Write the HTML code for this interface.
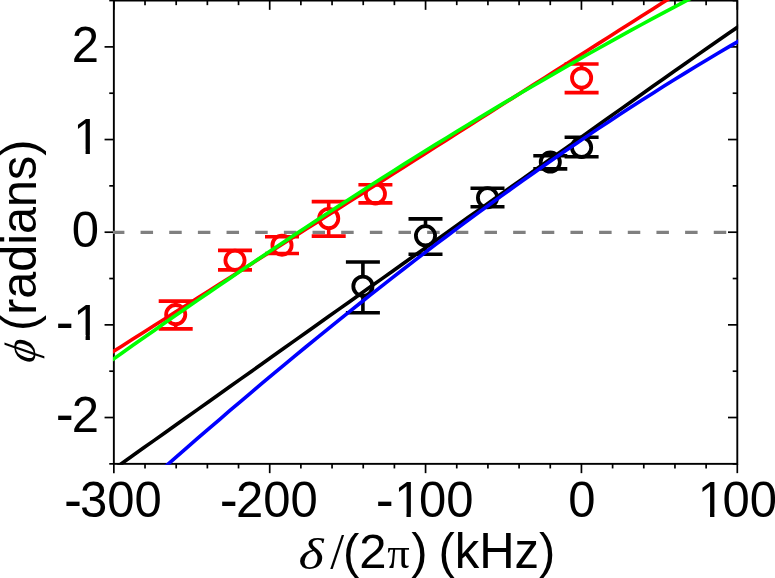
<!DOCTYPE html>
<html><head><meta charset="utf-8"><title>phase vs detuning</title>
<style>html,body{margin:0;padding:0;background:#fff}svg{display:block}.sa{font-family:"Liberation Sans",sans-serif}.se{font-family:"Liberation Serif",serif}</style></head>
<body>
<svg width="775" height="578" viewBox="0 0 775 578">
<rect width="775" height="578" fill="#fff"/>
<defs><clipPath id="c"><rect x="113.0" y="-0.30" width="625.15" height="465.0"/></clipPath></defs>
<rect x="113.85" y="0.55" width="623.45" height="463.3" fill="none" stroke="#000" stroke-width="1.9"/>
<g stroke="#000" stroke-width="1.7">
<line x1="113.85" y1="463.85" x2="113.85" y2="473.15"/>
<line x1="113.85" y1="0.55" x2="113.85" y2="9.85"/>
<line x1="145.02" y1="463.85" x2="145.02" y2="468.45"/>
<line x1="145.02" y1="0.55" x2="145.02" y2="5.15"/>
<line x1="176.19" y1="463.85" x2="176.19" y2="468.45"/>
<line x1="176.19" y1="0.55" x2="176.19" y2="5.15"/>
<line x1="207.37" y1="463.85" x2="207.37" y2="468.45"/>
<line x1="207.37" y1="0.55" x2="207.37" y2="5.15"/>
<line x1="238.54" y1="463.85" x2="238.54" y2="468.45"/>
<line x1="238.54" y1="0.55" x2="238.54" y2="5.15"/>
<line x1="269.71" y1="463.85" x2="269.71" y2="473.15"/>
<line x1="269.71" y1="0.55" x2="269.71" y2="9.85"/>
<line x1="300.88" y1="463.85" x2="300.88" y2="468.45"/>
<line x1="300.88" y1="0.55" x2="300.88" y2="5.15"/>
<line x1="332.06" y1="463.85" x2="332.06" y2="468.45"/>
<line x1="332.06" y1="0.55" x2="332.06" y2="5.15"/>
<line x1="363.23" y1="463.85" x2="363.23" y2="468.45"/>
<line x1="363.23" y1="0.55" x2="363.23" y2="5.15"/>
<line x1="394.40" y1="463.85" x2="394.40" y2="468.45"/>
<line x1="394.40" y1="0.55" x2="394.40" y2="5.15"/>
<line x1="425.57" y1="463.85" x2="425.57" y2="473.15"/>
<line x1="425.57" y1="0.55" x2="425.57" y2="9.85"/>
<line x1="456.75" y1="463.85" x2="456.75" y2="468.45"/>
<line x1="456.75" y1="0.55" x2="456.75" y2="5.15"/>
<line x1="487.92" y1="463.85" x2="487.92" y2="468.45"/>
<line x1="487.92" y1="0.55" x2="487.92" y2="5.15"/>
<line x1="519.09" y1="463.85" x2="519.09" y2="468.45"/>
<line x1="519.09" y1="0.55" x2="519.09" y2="5.15"/>
<line x1="550.26" y1="463.85" x2="550.26" y2="468.45"/>
<line x1="550.26" y1="0.55" x2="550.26" y2="5.15"/>
<line x1="581.44" y1="463.85" x2="581.44" y2="473.15"/>
<line x1="581.44" y1="0.55" x2="581.44" y2="9.85"/>
<line x1="612.61" y1="463.85" x2="612.61" y2="468.45"/>
<line x1="612.61" y1="0.55" x2="612.61" y2="5.15"/>
<line x1="643.78" y1="463.85" x2="643.78" y2="468.45"/>
<line x1="643.78" y1="0.55" x2="643.78" y2="5.15"/>
<line x1="674.95" y1="463.85" x2="674.95" y2="468.45"/>
<line x1="674.95" y1="0.55" x2="674.95" y2="5.15"/>
<line x1="706.13" y1="463.85" x2="706.13" y2="468.45"/>
<line x1="706.13" y1="0.55" x2="706.13" y2="5.15"/>
<line x1="737.30" y1="463.85" x2="737.30" y2="473.15"/>
<line x1="737.30" y1="0.55" x2="737.30" y2="9.85"/>
<line x1="113.85" y1="463.85" x2="109.25" y2="463.85"/>
<line x1="737.3" y1="463.85" x2="732.70" y2="463.85"/>
<line x1="113.85" y1="417.52" x2="104.55" y2="417.52"/>
<line x1="737.3" y1="417.52" x2="728.0" y2="417.52"/>
<line x1="113.85" y1="371.19" x2="109.25" y2="371.19"/>
<line x1="737.3" y1="371.19" x2="732.70" y2="371.19"/>
<line x1="113.85" y1="324.86" x2="104.55" y2="324.86"/>
<line x1="737.3" y1="324.86" x2="728.0" y2="324.86"/>
<line x1="113.85" y1="278.53" x2="109.25" y2="278.53"/>
<line x1="737.3" y1="278.53" x2="732.70" y2="278.53"/>
<line x1="113.85" y1="232.20" x2="104.55" y2="232.20"/>
<line x1="737.3" y1="232.20" x2="728.0" y2="232.20"/>
<line x1="113.85" y1="185.87" x2="109.25" y2="185.87"/>
<line x1="737.3" y1="185.87" x2="732.70" y2="185.87"/>
<line x1="113.85" y1="139.54" x2="104.55" y2="139.54"/>
<line x1="737.3" y1="139.54" x2="728.0" y2="139.54"/>
<line x1="113.85" y1="93.21" x2="109.25" y2="93.21"/>
<line x1="737.3" y1="93.21" x2="732.70" y2="93.21"/>
<line x1="113.85" y1="46.88" x2="104.55" y2="46.88"/>
<line x1="737.3" y1="46.88" x2="728.0" y2="46.88"/>
<line x1="113.85" y1="0.55" x2="109.25" y2="0.55"/>
<line x1="737.3" y1="0.55" x2="732.70" y2="0.55"/>
</g>
<g clip-path="url(#c)">
<line x1="111.9" y1="232.4" x2="737.3" y2="232.4" stroke="#808080" stroke-width="3.2" stroke-dasharray="12.5 16.16"/>
<g stroke="#000" fill="none" stroke-width="3.6"><line x1="362.9" y1="262.0" x2="362.9" y2="276.60"/><line x1="362.9" y1="295.8" x2="362.9" y2="312.8"/><line x1="345.9" y1="262.0" x2="379.9" y2="262.0"/><line x1="345.9" y1="312.8" x2="379.9" y2="312.8"/><circle cx="362.9" cy="286.2" r="9.6" stroke-width="3.8"/></g>
<g stroke="#000" fill="none" stroke-width="3.6"><line x1="425.5" y1="218.9" x2="425.5" y2="226.20"/><line x1="425.5" y1="245.4" x2="425.5" y2="254.2"/><line x1="408.5" y1="218.9" x2="442.5" y2="218.9"/><line x1="408.5" y1="254.2" x2="442.5" y2="254.2"/><circle cx="425.5" cy="235.8" r="9.6" stroke-width="3.8"/></g>
<g stroke="#000" fill="none" stroke-width="3.6"><line x1="487.5" y1="188.3" x2="487.5" y2="188.1"/><line x1="487.5" y1="207.30" x2="487.5" y2="206.8"/><line x1="470.5" y1="188.3" x2="504.5" y2="188.3"/><line x1="470.5" y1="206.8" x2="504.5" y2="206.8"/><circle cx="487.5" cy="197.7" r="9.6" stroke-width="3.8"/></g>
<g stroke="#000" fill="none" stroke-width="3.6"><line x1="550.3" y1="155.8" x2="550.3" y2="152.5"/><line x1="550.3" y1="171.7" x2="550.3" y2="168.9"/><line x1="533.3" y1="155.8" x2="567.3" y2="155.8"/><line x1="533.3" y1="168.9" x2="567.3" y2="168.9"/><circle cx="550.3" cy="162.1" r="9.6" stroke-width="3.8"/></g>
<g stroke="#000" fill="none" stroke-width="3.6"><line x1="581.6" y1="137.2" x2="581.6" y2="137.8"/><line x1="581.6" y1="157.0" x2="581.6" y2="156.8"/><line x1="564.6" y1="137.2" x2="598.6" y2="137.2"/><line x1="564.6" y1="156.8" x2="598.6" y2="156.8"/><circle cx="581.6" cy="147.4" r="9.6" stroke-width="3.8"/></g>
<g stroke="#f00" fill="none" stroke-width="3.6"><line x1="175.7" y1="301.1" x2="175.7" y2="305.0"/><line x1="175.7" y1="324.20" x2="175.7" y2="328.9"/><line x1="158.7" y1="301.1" x2="192.7" y2="301.1"/><line x1="158.7" y1="328.9" x2="192.7" y2="328.9"/><circle cx="175.7" cy="314.6" r="9.6" stroke-width="3.8"/></g>
<g stroke="#f00" fill="none" stroke-width="3.6"><line x1="235.0" y1="250.4" x2="235.0" y2="250.70"/><line x1="235.0" y1="269.90" x2="235.0" y2="269.9"/><line x1="218.0" y1="250.4" x2="252.0" y2="250.4"/><line x1="218.0" y1="269.9" x2="252.0" y2="269.9"/><circle cx="235.0" cy="260.3" r="9.6" stroke-width="3.8"/></g>
<g stroke="#f00" fill="none" stroke-width="3.6"><line x1="282.0" y1="236.7" x2="282.0" y2="235.6"/><line x1="282.0" y1="254.80" x2="282.0" y2="253.5"/><line x1="265.0" y1="236.7" x2="299.0" y2="236.7"/><line x1="265.0" y1="253.5" x2="299.0" y2="253.5"/><circle cx="282.0" cy="245.2" r="9.6" stroke-width="3.8"/></g>
<g stroke="#f00" fill="none" stroke-width="3.6"><line x1="328.7" y1="201.6" x2="328.7" y2="208.9"/><line x1="328.7" y1="228.1" x2="328.7" y2="236.1"/><line x1="311.7" y1="201.6" x2="345.7" y2="201.6"/><line x1="311.7" y1="236.1" x2="345.7" y2="236.1"/><circle cx="328.7" cy="218.5" r="9.6" stroke-width="3.8"/></g>
<g stroke="#f00" fill="none" stroke-width="3.6"><line x1="375.4" y1="184.8" x2="375.4" y2="184.3"/><line x1="375.4" y1="203.5" x2="375.4" y2="202.9"/><line x1="358.4" y1="184.8" x2="392.4" y2="184.8"/><line x1="358.4" y1="202.9" x2="392.4" y2="202.9"/><circle cx="375.4" cy="193.9" r="9.6" stroke-width="3.8"/></g>
<g stroke="#f00" fill="none" stroke-width="3.6"><line x1="581.6" y1="64.0" x2="581.6" y2="68.4"/><line x1="581.6" y1="87.6" x2="581.6" y2="92.6"/><line x1="564.6" y1="64.0" x2="598.6" y2="64.0"/><line x1="564.6" y1="92.6" x2="598.6" y2="92.6"/><circle cx="581.6" cy="78.0" r="9.6" stroke-width="3.8"/></g>
<polyline points="100.0,478.85 110.8,471.16 121.7,463.47 132.5,455.78 143.3,448.08 154.2,440.39 165.0,432.70 175.8,425.01 186.7,417.32 197.5,409.62 208.3,401.93 219.2,394.24 230.0,386.55 240.8,378.86 251.7,371.17 262.5,363.48 273.3,355.78 284.2,348.09 295.0,340.40 305.8,332.71 316.7,325.02 327.5,317.33 338.3,309.63 349.2,301.94 360.0,294.25 370.8,286.56 381.7,278.87 392.5,271.18 403.3,263.48 414.2,255.79 425.0,248.10 435.8,240.41 446.7,232.72 457.5,225.03 468.3,217.33 479.2,209.64 490.0,201.95 500.8,194.26 511.7,186.57 522.5,178.88 533.3,171.18 544.2,163.49 555.0,155.80 565.8,148.11 576.7,140.42 587.5,132.73 598.3,125.03 609.2,117.34 620.0,109.65 630.8,101.96 641.7,94.27 652.5,86.59 663.3,78.94 674.2,71.32 685.0,63.72 695.8,56.14 706.7,48.59 717.5,41.06 728.3,33.56 739.2,26.09 750.0,18.64" fill="none" stroke="#000" stroke-width="3.6"/>
<polyline points="100.0,359.96 110.8,353.08 121.7,346.20 132.5,339.33 143.3,332.45 154.2,325.57 165.0,318.69 175.8,311.82 186.7,304.94 197.5,298.06 208.3,291.19 219.2,284.31 230.0,277.43 240.8,270.55 251.7,263.68 262.5,256.80 273.3,249.92 284.2,243.05 295.0,236.17 305.8,229.29 316.7,222.41 327.5,215.54 338.3,208.66 349.2,201.78 360.0,194.90 370.8,188.03 381.7,181.15 392.5,174.27 403.3,167.40 414.2,160.52 425.0,153.64 435.8,146.76 446.7,139.89 457.5,133.01 468.3,126.13 479.2,119.26 490.0,112.38 500.8,105.50 511.7,98.62 522.5,91.75 533.3,84.87 544.2,77.99 555.0,71.11 565.8,64.24 576.7,57.36 587.5,50.48 598.3,43.61 609.2,36.73 620.0,29.85 630.8,22.97 641.7,16.10 652.5,9.22 663.3,2.34 674.2,-4.53 685.0,-11.41 695.8,-18.29 706.7,-25.17 717.5,-32.04 728.3,-38.92 739.2,-45.80 750.0,-52.68" fill="none" stroke="#f00" stroke-width="3.6"/>
<polyline points="100.0,524.95 110.8,515.16 121.7,505.41 132.5,495.71 143.3,486.05 154.2,476.44 165.0,466.87 175.8,457.36 186.7,447.88 197.5,438.46 208.3,429.09 219.2,419.76 230.0,410.48 240.8,401.26 251.7,392.08 262.5,382.96 273.3,373.89 284.2,364.87 295.0,355.90 305.8,346.99 316.7,338.13 327.5,329.32 338.3,320.57 349.2,311.88 360.0,303.24 370.8,294.66 381.7,286.14 392.5,277.68 403.3,269.27 414.2,260.92 425.0,252.64 435.8,244.41 446.7,236.24 457.5,228.14 468.3,220.10 479.2,212.12 490.0,204.20 500.8,196.35 511.7,188.56 522.5,180.83 533.3,173.17 544.2,165.58 555.0,158.05 565.8,150.59 576.7,143.20 587.5,135.88 598.3,128.62 609.2,121.44 620.0,114.32 630.8,107.27 641.7,100.30 652.5,93.40 663.3,86.56 674.2,79.81 685.0,73.12 695.8,66.51 706.7,59.97 717.5,53.51 728.3,47.12 739.2,40.81 750.0,34.57" fill="none" stroke="#00f" stroke-width="3.6"/>
<polyline points="100.0,368.57 110.8,360.89 121.7,353.22 132.5,345.59 143.3,337.98 154.2,330.40 165.0,322.85 175.8,315.33 186.7,307.84 197.5,300.37 208.3,292.94 219.2,285.53 230.0,278.16 240.8,270.81 251.7,263.50 262.5,256.22 273.3,248.97 284.2,241.75 295.0,234.57 305.8,227.42 316.7,220.30 327.5,213.22 338.3,206.17 349.2,199.16 360.0,192.18 370.8,185.24 381.7,178.33 392.5,171.46 403.3,164.63 414.2,157.83 425.0,151.08 435.8,144.36 446.7,137.68 457.5,131.04 468.3,124.44 479.2,117.88 490.0,111.36 500.8,104.88 511.7,98.44 522.5,92.04 533.3,85.68 544.2,79.37 555.0,73.10 565.8,66.87 576.7,60.69 587.5,54.55 598.3,48.46 609.2,42.41 620.0,36.40 630.8,30.45 641.7,24.53 652.5,18.67 663.3,12.85 674.2,7.08 685.0,1.35 695.8,-4.32 706.7,-9.95 717.5,-15.53 728.3,-21.05 739.2,-26.53 750.0,-31.96" fill="none" stroke="#0f0" stroke-width="3.6"/>
</g>
<g class="sa" font-size="49" fill="#000">
<text transform="translate(0,517.3) scale(1,1.03)" x="63.91 80.03 107.28 134.53" y="1.3 0 0 0"><tspan font-size="54">-</tspan>300</text>
<text transform="translate(0,517.3) scale(1,1.03)" x="219.78 235.89 263.15 290.40" y="1.3 0 0 0"><tspan font-size="54">-</tspan>200</text>
<text transform="translate(0,517.3) scale(1,1.03)" x="375.64 394.16 419.01 446.26" y="1.3 0 0 0"><tspan font-size="54">-</tspan>100</text>
<rect x="396.66" y="512.81" width="9.82" height="5.29" fill="#fff"/>
<rect x="410.81" y="512.81" width="9.41" height="5.29" fill="#fff"/>
<text transform="translate(0,517.3) scale(1,1.03)" x="568.21" y="0">0</text>
<text transform="translate(0,517.3) scale(1,1.03)" x="697.72 722.57 749.83" y="0 0 0">100</text>
<rect x="700.22" y="512.81" width="9.82" height="5.29" fill="#fff"/>
<rect x="714.38" y="512.81" width="9.41" height="5.29" fill="#fff"/>
<text transform="translate(0,61.5) scale(1,1.03)" x="71.85" y="0">2</text>
<text transform="translate(0,154.1) scale(1,1.03)" x="73.25" y="0">1</text>
<rect x="75.75" y="149.65" width="9.82" height="5.29" fill="#fff"/>
<rect x="89.90" y="149.65" width="9.41" height="5.29" fill="#fff"/>
<text transform="translate(0,246.8) scale(1,1.03)" x="71.85" y="0">0</text>
<text transform="translate(0,339.5) scale(1,1.03)" x="55.73 73.25" y="1.3 0"><tspan font-size="54">-</tspan>1</text>
<rect x="75.75" y="334.97" width="9.82" height="5.29" fill="#fff"/>
<rect x="89.90" y="334.97" width="9.41" height="5.29" fill="#fff"/>
<text transform="translate(0,432.1) scale(1,1.03)" x="55.73 71.85" y="1.3 0"><tspan font-size="54">-</tspan>2</text>
</g>
<g class="sa" font-size="49" fill="#000">
<text transform="translate(298.6,568.8) scale(1.08,0.89)" class="se" font-style="italic" font-size="50">δ</text>
<text x="330.2" y="567.9" class="se" font-size="50">/</text>
<text transform="translate(342.9,567.9) scale(1,1.00)">(2</text>
<text x="387.3" y="568.2" class="se" font-size="44.5">π</text>
<text transform="translate(411.3,567.9) scale(1,1.03)">)</text>
<text transform="translate(438.4,567.9) scale(1,1.03)">(kHz)</text>
<g transform="translate(35.6,331.0) rotate(-90)">
<text transform="scale(1,1.03)" x="0" y="0" font-size="48.5">(radians)</text>
<text transform="translate(-34.8,-0.6) skewX(-19)" x="0" y="0" class="se" font-size="44">ϕ</text>
</g>
</g>
</svg>
</body></html>
